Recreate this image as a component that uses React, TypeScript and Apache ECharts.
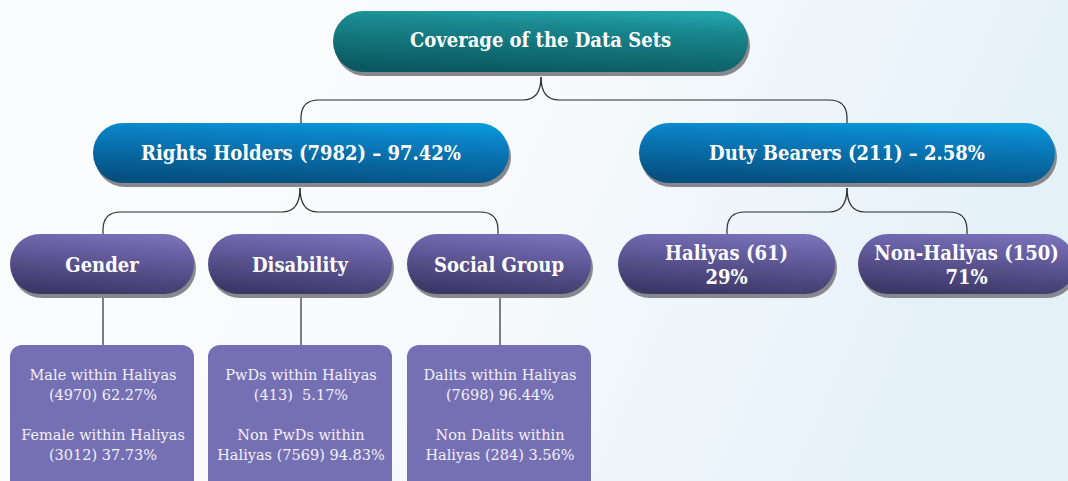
import React, { useEffect, useRef } from "react";
import * as echarts from "echarts";

// ---- data ----
const rootLabel = "Coverage of the Data Sets";
const level1Names = ["Rights Holders", "Duty Bearers"];
const level1Counts = [7982, 211];
const level1Pcts = ["97.42%", "2.58%"];
const rightsGroups = ["Gender", "Disability", "Social Group"];
const dutyNames = ["Haliyas", "Non-Haliyas"];
const dutyCounts = [61, 150];
const dutyPcts = ["29%", "71%"];
const detailLines = [
  ["Male within Haliyas", "(4970) 62.27%", "Female within Haliyas", "(3012) 37.73%"],
  ["PwDs within Haliyas", "(413)  5.17%", "Non PwDs within", "Haliyas (7569) 94.83%"],
  ["Dalits within Haliyas", "(7698) 96.44%", "Non Dalits within", "Haliyas (284) 3.56%"],
];

const FONT = '"DejaVu Serif Condensed", "DejaVu Serif", serif';
const BODY_FONT = '"DejaVu Serif", serif';
const LINE = "#2a2a2a";

function grad(tl: string, tr: string, bottom: string) {
  return new echarts.graphic.LinearGradient(0.7, 0, 0.45, 1, [
    { offset: 0, color: tr },
    { offset: 0.25, color: tl },
    { offset: 1, color: bottom },
  ]);
}

function pill(x: number, y: number, w: number, h: number, fill: any, text: string, fontSize: number, dy = 0, lineHeight = 24) {
  return [
    { type: "rect", shape: { x: x + 2, y: y + 4, width: w, height: h, r: h / 2 }, style: { fill: "#88888c" } },
    { type: "rect", shape: { x, y, width: w, height: h, r: h / 2 }, style: { fill } },
    {
      type: "text",
      x: x + w / 2,
      y: y + h / 2 + dy,
      style: {
        text,
        fill: "#ffffff",
        fontFamily: FONT,
        fontWeight: "bold",
        fontSize,
        lineHeight,
        align: "center",
        verticalAlign: "middle",
      },
    },
  ];
}

function brace(cx: number, y0: number, yH: number, xs: number[], y1: number) {
  const r = 18;
  const els: any[] = [];
  const st = { stroke: LINE, lineWidth: 1.2, fill: "none" };
  const xMin = Math.min(...xs);
  const xMax = Math.max(...xs);
  els.push({ type: "bezierCurve", shape: { x1: cx, y1: y0, cpx1: cx, cpy1: yH, x2: cx - r, y2: yH }, style: st });
  els.push({ type: "bezierCurve", shape: { x1: cx, y1: y0, cpx1: cx, cpy1: yH, x2: cx + r, y2: yH }, style: st });
  els.push({ type: "line", shape: { x1: xMin + r, y1: yH, x2: cx - r, y2: yH }, style: st });
  els.push({ type: "line", shape: { x1: cx + r, y1: yH, x2: xMax - r, y2: yH }, style: st });
  els.push({ type: "bezierCurve", shape: { x1: xMin + r, y1: yH, cpx1: xMin, cpy1: yH, x2: xMin, y2: yH + r }, style: st });
  els.push({ type: "bezierCurve", shape: { x1: xMax - r, y1: yH, cpx1: xMax, cpy1: yH, x2: xMax, y2: yH + r }, style: st });
  els.push({ type: "line", shape: { x1: xMin, y1: yH + r, x2: xMin, y2: y1 }, style: st });
  els.push({ type: "line", shape: { x1: xMax, y1: yH + r, x2: xMax, y2: y1 }, style: st });
  return els;
}

export default function App() {
  const ref = useRef<HTMLDivElement>(null);
  useEffect(() => {
    if (!ref.current) return;
    const chart = echarts.init(ref.current, null, { renderer: "svg" });
    const W = 1068;
    const H = 481;

    const teal = grad("#1a8990", "#23a4ab", "#0b5960");
    const blue = grad("#0a80c3", "#0898da", "#05507f");
    const purple = () => grad("#6a62a6", "#7a72b9", "#3d3767");

    const els: any[] = [];
    els.push({
      type: "rect",
      shape: { x: 0, y: 0, width: W, height: H },
      style: {
        fill: new echarts.graphic.LinearGradient(0, 0, 1, 0.2, [
          { offset: 0, color: "#fbfcfd" },
          { offset: 0.55, color: "#f7fafc" },
          { offset: 1, color: "#e4f1f8" },
        ]),
      },
    });

    // connectors
    els.push(...brace(541, 77, 100, [301, 847], 123));
    els.push(...brace(300, 188, 212, [103, 498], 234));
    els.push(...brace(847, 188, 212, [727, 967], 234));
    const groupCx = [102, 300, 499];
    groupCx.forEach((cx) => {
      els.push({ type: "line", shape: { x1: cx + 1, y1: 298, x2: cx + 1, y2: 345 }, style: { stroke: LINE, lineWidth: 1.2 } });
    });

    els.push(...pill(333, 11, 415, 61, teal, rootLabel, 20, -1.5));
    const l1x = [93, 639];
    level1Names.forEach((n, i) => {
      els.push(...pill(l1x[i], 123, 416, 60, blue, `${n} (${level1Counts[i]}) – ${level1Pcts[i]}`, 20));
    });
    rightsGroups.forEach((g, i) => {
      els.push(...pill(groupCx[i] - 92, 234, 184, 60, purple(), g, 20, 0.5));
    });
    const dutyCx = [727, 967];
    dutyNames.forEach((n, i) => {
      els.push(...pill(dutyCx[i] - 109, 234, 217, 60, purple(), `${n} (${dutyCounts[i]})\n${dutyPcts[i]}`, 20, 1, 24));
    });

    detailLines.forEach((lines, i) => {
      const x = groupCx[i] - 92;
      els.push({ type: "rect", shape: { x, y: 345, width: 184, height: 160, r: 12 }, style: { fill: "#756fb3" } });
      const ys = [375, 395, 435, 455];
      lines.forEach((t, j) => {
        els.push({
          type: "text",
          x: groupCx[i] + 1,
          y: ys[j],
          style: { text: t, fill: "#f3f1fa", fontFamily: BODY_FONT, fontSize: 14.5, align: "center", verticalAlign: "middle" },
        });
      });
    });

    chart.setOption({ animation: false, graphic: { elements: els } });
    return () => chart.dispose();
  }, []);
  return <div ref={ref} style={{ position: "absolute", left: 0, top: 0, width: 1068, height: 481 }} />;
}
